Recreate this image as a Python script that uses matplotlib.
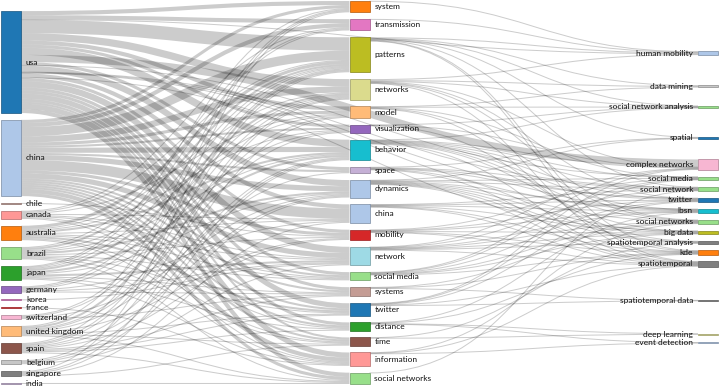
import numpy as np
import matplotlib
matplotlib.use("Agg")
import matplotlib.pyplot as plt
import matplotlib.colors as mcolors
from matplotlib.path import Path
from matplotlib.patches import PathPatch, Rectangle

# ============================================================
# DATA
# ============================================================

countries = ["usa", "china", "chile", "canada", "australia", "brazil", "japan",
             "germany", "korea", "france", "switzerland", "united kingdom",
             "spain", "belgium", "singapore", "india"]
country_colors = ["#1f77b4", "#aec7e8", "#c49c94", "#ff9896", "#ff7f0e", "#98df8a",
                  "#2ca02c", "#9467bd", "#e377c2", "#d62728", "#f7b6d2", "#ffbb78",
                  "#8c564b", "#c7c7c7", "#7f7f7f", "#c5b0d5"]

keywords = ["system", "transmission", "patterns", "networks", "model",
            "visualization", "behavior", "space", "dynamics", "china", "mobility",
            "network", "social media", "systems", "twitter", "distance", "time",
            "information", "social networks"]
keyword_colors = ["#ff7f0e", "#e377c2", "#bcbd22", "#dbdb8d", "#ffbb78", "#9467bd",
                  "#17becf", "#c5b0d5", "#aec7e8", "#aec7e8", "#d62728", "#9edae5",
                  "#98df8a", "#c49c94", "#1f77b4", "#2ca02c", "#8c564b", "#ff9896",
                  "#98df8a"]

author_keywords = ["human mobility", "data mining", "social network analysis",
                   "spatial", "complex networks", "social media", "social network",
                   "twitter", "lbsn", "social networks", "big data",
                   "spatiotemporal analysis", "kde", "spatiotemporal",
                   "spatiotemporal data", "deep learning", "event detection"]
author_colors = ["#aec7e8", "#c7c7c7", "#98df8a", "#1f77b4", "#f7b6d2", "#98df8a",
                 "#98df8a", "#1f77b4", "#17becf", "#98df8a", "#bcbd22", "#7f7f7f",
                 "#ff7f0e", "#7f7f7f", "#7f7f7f", "#dbdb8d", "#aec7e8"]

# country -> keyword
country_keyword_links = [
    ("usa", "system", 8), ("china", "system", 6), ("united kingdom", "system", 2),
    ("spain", "system", 2), ("japan", "system", 2), ("singapore", "system", 2),
    ("usa", "transmission", 8), ("china", "transmission", 8), ("canada", "transmission", 2),
    ("brazil", "transmission", 2), ("japan", "transmission", 2),
    ("usa", "patterns", 26), ("china", "patterns", 18), ("australia", "patterns", 6),
    ("brazil", "patterns", 4), ("japan", "patterns", 2), ("united kingdom", "patterns", 4),
    ("spain", "patterns", 2), ("canada", "patterns", 2), ("germany", "patterns", 2),
    ("switzerland", "patterns", 2),
    ("usa", "networks", 14), ("china", "networks", 12), ("australia", "networks", 2),
    ("japan", "networks", 4), ("switzerland", "networks", 2), ("germany", "networks", 2),
    ("spain", "networks", 2), ("belgium", "networks", 2),
    ("usa", "model", 8), ("china", "model", 6), ("brazil", "model", 2),
    ("united kingdom", "model", 2), ("canada", "model", 2), ("singapore", "model", 2),
    ("usa", "visualization", 6), ("china", "visualization", 4), ("australia", "visualization", 2),
    ("germany", "visualization", 2), ("united kingdom", "visualization", 2),
    ("usa", "behavior", 14), ("china", "behavior", 10), ("australia", "behavior", 4),
    ("japan", "behavior", 4), ("spain", "behavior", 2), ("brazil", "behavior", 2),
    ("singapore", "behavior", 2), ("belgium", "behavior", 2),
    ("usa", "space", 6), ("china", "space", 4), ("united kingdom", "space", 2),
    ("usa", "dynamics", 12), ("china", "dynamics", 10), ("brazil", "dynamics", 4),
    ("spain", "dynamics", 2), ("japan", "dynamics", 2), ("switzerland", "dynamics", 2),
    ("belgium", "dynamics", 2),
    ("usa", "china", 8), ("china", "china", 20), ("australia", "china", 2),
    ("singapore", "china", 2), ("canada", "china", 2), ("germany", "china", 2),
    ("usa", "mobility", 6), ("china", "mobility", 6), ("united kingdom", "mobility", 2),
    ("spain", "mobility", 2), ("brazil", "mobility", 2), ("chile", "mobility", 2),
    ("usa", "network", 12), ("china", "network", 10), ("japan", "network", 4),
    ("australia", "network", 2), ("germany", "network", 2), ("canada", "network", 2),
    ("korea", "network", 2), ("belgium", "network", 2),
    ("usa", "social media", 6), ("china", "social media", 4), ("australia", "social media", 2),
    ("canada", "social media", 2), ("brazil", "social media", 2),
    ("usa", "systems", 6), ("china", "systems", 4), ("spain", "systems", 2),
    ("japan", "systems", 2), ("switzerland", "systems", 2), ("germany", "systems", 2),
    ("usa", "twitter", 10), ("china", "twitter", 4), ("australia", "twitter", 4),
    ("united kingdom", "twitter", 2), ("spain", "twitter", 2), ("brazil", "twitter", 2),
    ("usa", "distance", 6), ("china", "distance", 4), ("canada", "distance", 2),
    ("japan", "distance", 2), ("spain", "distance", 2),
    ("usa", "time", 4), ("china", "time", 4), ("australia", "time", 2),
    ("brazil", "time", 2), ("united kingdom", "time", 2), ("singapore", "time", 2),
    ("usa", "information", 10), ("china", "information", 8), ("canada", "information", 2),
    ("japan", "information", 2), ("australia", "information", 2), ("france", "information", 2),
    ("usa", "social networks", 8), ("china", "social networks", 6),
    ("united kingdom", "social networks", 2), ("spain", "social networks", 2),
    ("brazil", "social networks", 2), ("india", "social networks", 2),
]

# keyword -> author keyword
keyword_author_links = [
    ("system", "human mobility", 1), ("transmission", "human mobility", 1),
    ("patterns", "human mobility", 2), ("networks", "human mobility", 2),
    ("networks", "data mining", 2), ("patterns", "data mining", 1), ("model", "data mining", 1),
    ("networks", "social network analysis", 1), ("model", "social network analysis", 1),
    ("behavior", "social network analysis", 1), ("visualization", "social network analysis", 1),
    ("patterns", "social network analysis", 1),
    ("patterns", "spatial", 1), ("space", "spatial", 1), ("dynamics", "spatial", 1),
    ("networks", "complex networks", 1), ("visualization", "complex networks", 1),
    ("network", "complex networks", 1), ("social media", "complex networks", 1),
    ("behavior", "complex networks", 1), ("twitter", "complex networks", 1),
    ("twitter", "social media", 1), ("social media", "social media", 1),
    ("model", "social media", 1), ("behavior", "social media", 1),
    ("mobility", "social media", 1), ("dynamics", "social media", 1),
    ("network", "social network", 1), ("social networks", "social network", 1),
    ("dynamics", "social network", 1), ("patterns", "social network", 1),
    ("behavior", "social network", 1), ("china", "social network", 1),
    ("space", "social network", 1),
    ("twitter", "twitter", 1), ("social media", "twitter", 1), ("mobility", "twitter", 1),
    ("networks", "twitter", 1), ("behavior", "twitter", 1), ("china", "twitter", 1),
    ("space", "twitter", 1),
    ("mobility", "lbsn", 1), ("behavior", "lbsn", 1), ("distance", "lbsn", 1),
    ("china", "lbsn", 1), ("space", "lbsn", 1), ("dynamics", "lbsn", 1),
    ("network", "lbsn", 1),
    ("network", "social networks", 1), ("networks", "social networks", 1),
    ("information", "social networks", 1), ("systems", "social networks", 1),
    ("dynamics", "social networks", 1), ("behavior", "social networks", 1),
    ("social media", "social networks", 1), ("model", "social networks", 1),
    ("china", "big data", 1), ("mobility", "big data", 1), ("behavior", "big data", 1),
    ("network", "big data", 1), ("dynamics", "big data", 1), ("social media", "big data", 1),
    ("space", "spatiotemporal analysis", 1), ("time", "spatiotemporal analysis", 1),
    ("visualization", "spatiotemporal analysis", 1), ("dynamics", "spatiotemporal analysis", 1),
    ("network", "spatiotemporal analysis", 1),
    ("distance", "kde", 1), ("mobility", "kde", 1), ("china", "kde", 1),
    ("patterns", "kde", 1), ("dynamics", "kde", 1), ("systems", "kde", 1),
    ("model", "kde", 1), ("social media", "kde", 1),
    ("patterns", "spatiotemporal", 1), ("networks", "spatiotemporal", 1),
    ("dynamics", "spatiotemporal", 1), ("china", "spatiotemporal", 1),
    ("network", "spatiotemporal", 1), ("twitter", "spatiotemporal", 1),
    ("information", "spatiotemporal", 1), ("mobility", "spatiotemporal", 1),
    ("behavior", "spatiotemporal", 1), ("space", "spatiotemporal", 1),
    ("systems", "spatiotemporal data", 1), ("twitter", "spatiotemporal data", 1),
    ("distance", "deep learning", 1), ("time", "deep learning", 1),
    ("information", "event detection", 1), ("distance", "event detection", 1),
]

# country -> author keyword (links that skip the middle column)
country_author_links = [
    ("usa", "complex networks", 14), ("usa", "human mobility", 1),
    ("usa", "social media", 1), ("usa", "social network", 1), ("usa", "twitter", 1),
    ("usa", "lbsn", 1), ("usa", "big data", 1),
]

# ============================================================
# LAYOUT (simple sankey)
# ============================================================

W, H = 720, 387
X_LEFT, X_RIGHT = 1, 718
Y_TOP, Y_BOTTOM = 1, 384
NODE_W = 20
PAD = 6.8

columns = []
nodes = {}
for c, (names, colors) in enumerate([(countries, country_colors),
                                     (keywords, keyword_colors),
                                     (author_keywords, author_colors)]):
    col = []
    for name, color in zip(names, colors):
        nd = {"col": c, "name": name, "color": color, "out": [], "inn": []}
        nodes[(c, name)] = nd
        col.append(nd)
    columns.append(col)

links = []
for (sc, tc, link_list) in [(0, 1, country_keyword_links),
                            (1, 2, keyword_author_links),
                            (0, 2, country_author_links)]:
    for s, t, v in link_list:
        lk = {"src": nodes[(sc, s)], "tgt": nodes[(tc, t)], "value": v}
        lk["src"]["out"].append(lk)
        lk["tgt"]["inn"].append(lk)
        links.append(lk)

for nd in nodes.values():
    nd["value"] = max(sum(l["value"] for l in nd["inn"]),
                      sum(l["value"] for l in nd["out"]))

ky = min((Y_BOTTOM - Y_TOP - (len(col) - 1) * PAD) / sum(n["value"] for n in col)
         for col in columns)
col_step = (X_RIGHT - X_LEFT - NODE_W) / (len(columns) - 1)

for c, col in enumerate(columns):
    y = Y_TOP
    for nd in col:
        nd["x0"] = X_LEFT + c * col_step
        nd["x1"] = nd["x0"] + NODE_W
        nd["h"] = nd["value"] * ky
        nd["y0"] = y
        y += nd["h"] + PAD
for lk in links:
    lk["w"] = lk["value"] * ky


def center(nd):
    return nd["y0"] + nd["h"] / 2


def block_pos(blk):
    offs, o = [], 0
    for nd in blk:
        offs.append(o)
        o += nd["h"] + PAD
    wts = [nd["value"] for nd in blk]
    top = np.average([nd["want"] - off for nd, off in zip(blk, offs)], weights=wts)
    return top, o - PAD


def resolve(col):
    # pool adjacent blocks that overlap, keep column order
    blocks = []
    for nd in col:
        blocks.append([nd])
        while len(blocks) > 1:
            a, b = blocks[-2], blocks[-1]
            ta, sa = block_pos(a)
            tb, _ = block_pos(b)
            if ta + sa + PAD > tb:
                blocks[-2] = a + b
                blocks.pop()
            else:
                break
    for blk in blocks:
        top, _ = block_pos(blk)
        y = top
        for nd in blk:
            nd["y0"] = y
            y += nd["h"] + PAD
    y = Y_TOP
    for nd in col:
        nd["y0"] = max(nd["y0"], y)
        y = nd["y0"] + nd["h"] + PAD
    y = Y_BOTTOM
    for nd in reversed(col):
        nd["y0"] = min(nd["y0"], y - nd["h"])
        y = nd["y0"] - PAD


for _ in range(4):
    for c in (1, 2):
        for nd in columns[c]:
            srcs = [l for l in nd["inn"] if l["src"]["col"] == c - 1]
            wsum = sum(l["value"] for l in srcs)
            nd["want"] = (sum(center(l["src"]) * l["value"] for l in srcs) / wsum
                          - nd["h"] / 2) if wsum else nd["y0"]
        resolve(columns[c])
    for c in (1, 0):
        for nd in columns[c]:
            tgts = [l for l in nd["out"] if l["tgt"]["col"] == c + 1]
            wsum = sum(l["value"] for l in tgts)
            nd["want"] = (sum(center(l["tgt"]) * l["value"] for l in tgts) / wsum
                          - nd["h"] / 2) if wsum else nd["y0"]
        resolve(columns[c])

# link attachment points
for nd in nodes.values():
    nd["out"].sort(key=lambda l: center(l["tgt"]))
    nd["inn"].sort(key=lambda l: center(l["src"]))
    y = nd["y0"]
    for l in nd["out"]:
        l["sy"] = y + l["w"] / 2
        y += l["w"]
    y = nd["y0"]
    for l in nd["inn"]:
        l["ty"] = y + l["w"] / 2
        y += l["w"]

# ============================================================
# DRAW
# ============================================================

fig = plt.figure(figsize=(W / 100, H / 100), dpi=100)
ax = fig.add_axes([0, 0, 1, 1])
ax.set_xlim(0, W)
ax.set_ylim(H, 0)
ax.axis("off")

PX = 72 / 100  # points per pixel

for l in links:
    xs, xt = l["src"]["x1"], l["tgt"]["x0"]
    xm = (xs + xt) / 2
    path = Path([(xs, l["sy"]), (xm, l["sy"]), (xm, l["ty"]), (xt, l["ty"])],
                [Path.MOVETO, Path.CURVE4, Path.CURVE4, Path.CURVE4])
    ax.add_patch(PathPatch(path, fill=False, edgecolor="black", alpha=0.2,
                           linewidth=max(1, l["w"]) * PX, capstyle="butt"))

for nd in nodes.values():
    rgb = np.array(mcolors.to_rgb(nd["color"]))
    ax.add_patch(Rectangle((nd["x0"], nd["y0"]), NODE_W, max(nd["h"], 0.8),
                           facecolor=nd["color"], edgecolor=rgb * 0.7,
                           linewidth=0.5))
    if nd["col"] < 2:
        ax.text(nd["x1"] + 5, center(nd), nd["name"], ha="left", va="center",
                fontsize=6, family="Lato", color="#111111")
    else:
        ax.text(nd["x0"] - 5, center(nd), nd["name"], ha="right", va="center",
                fontsize=6, family="Lato", color="#111111")

fig.savefig("out.png", dpi=100)
